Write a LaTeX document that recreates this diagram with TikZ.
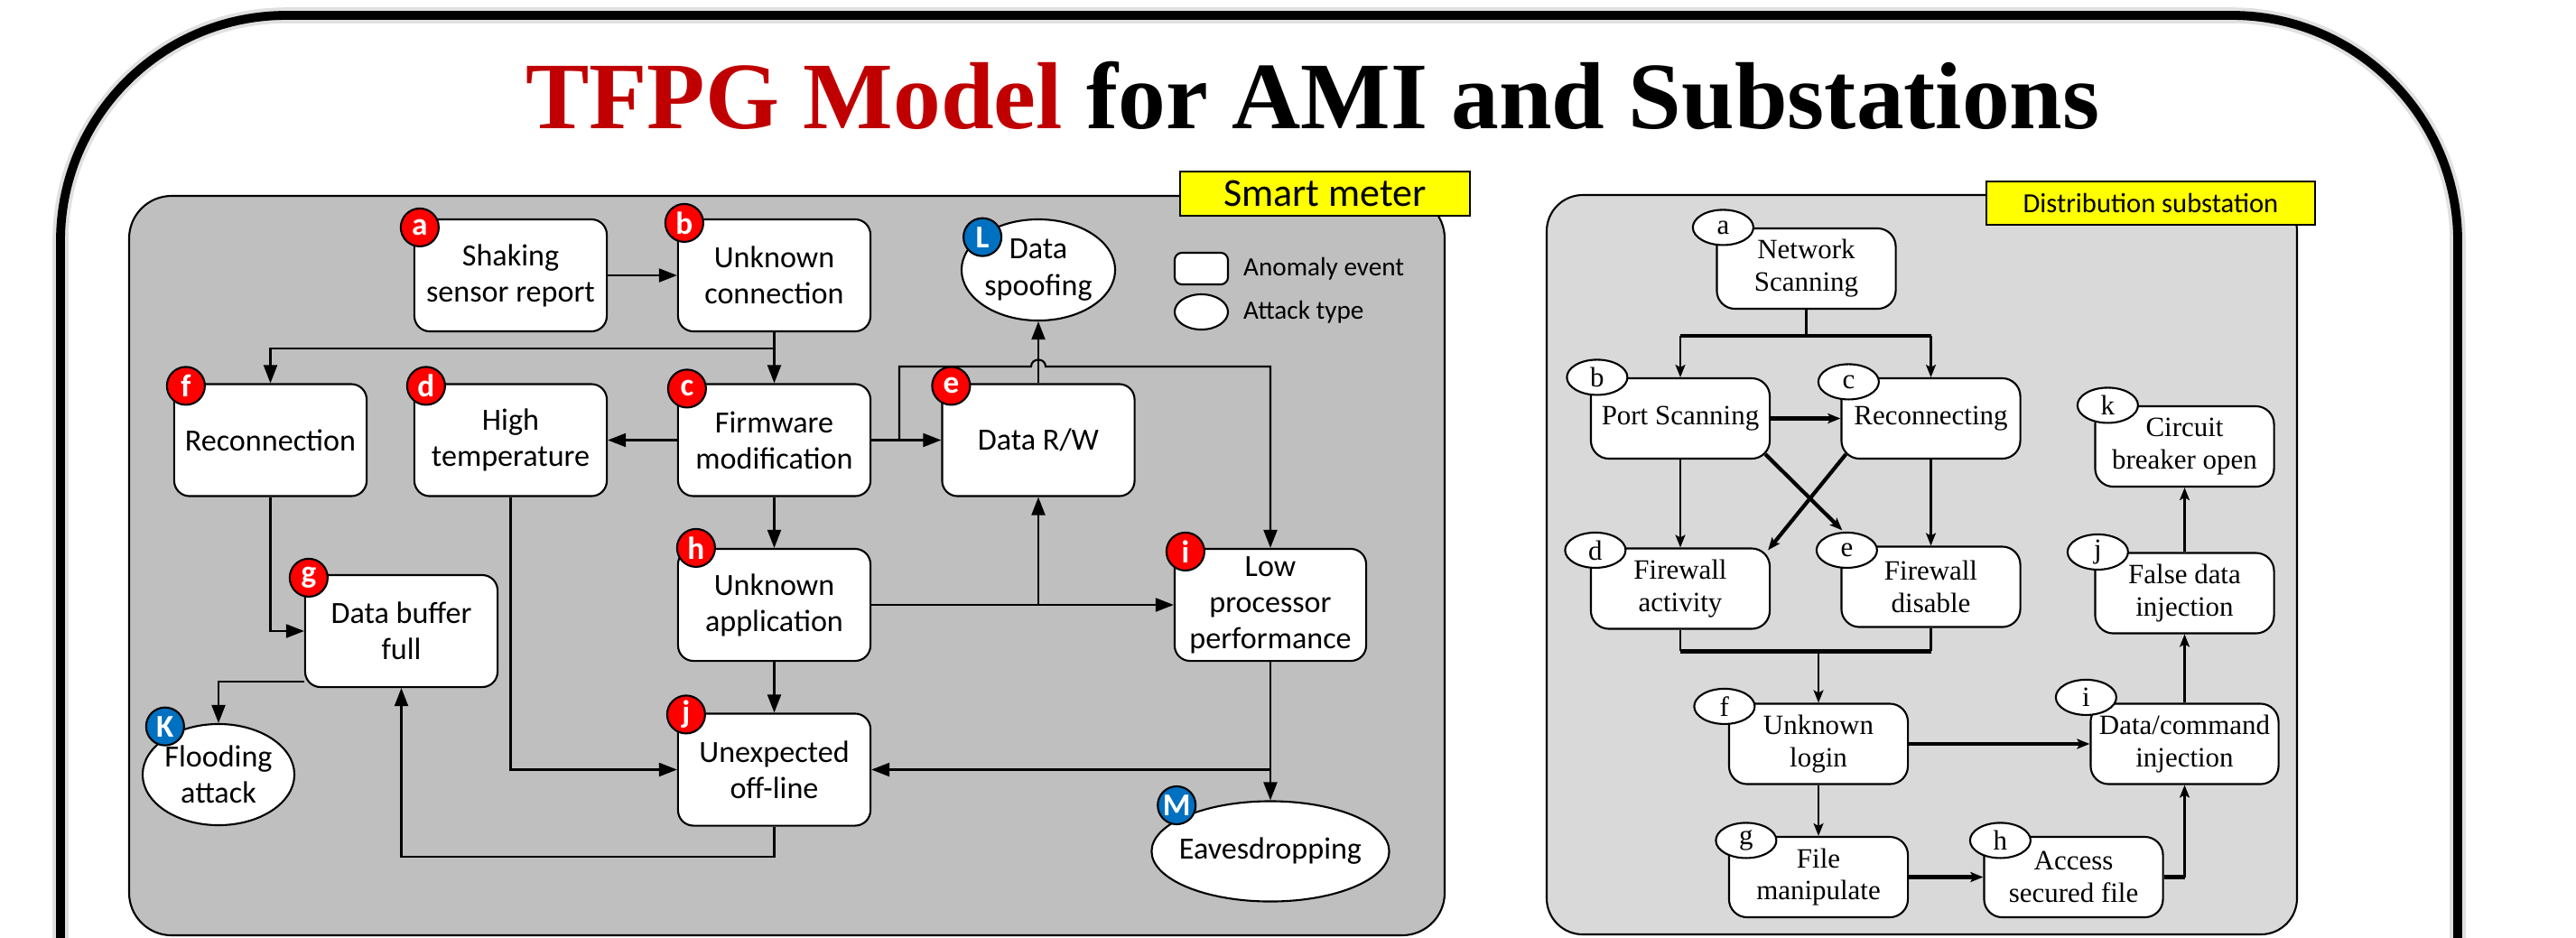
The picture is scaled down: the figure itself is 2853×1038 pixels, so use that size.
\documentclass[tikz,border=0pt]{standalone}
\usepackage{fontspec}
\usepackage{xcolor}
\usepackage{tikz}
\usetikzlibrary{arrows.meta,positioning,shapes.geometric,calc}
\newfontfamily\calibrifont{Carlito}
\newfontfamily\timesfont{Liberation Serif}
\definecolor{meterpanel}{HTML}{BFBFBF}
\definecolor{stationpanel}{HTML}{D9D9D9}
\definecolor{tagyellow}{HTML}{FFFF00}
\definecolor{eventred}{HTML}{FF0000}
\definecolor{attackblue}{HTML}{0070C0}
\definecolor{titlered}{HTML}{C00000}

\begin{document}
\begin{tikzpicture}[x=0.01cm,y=-0.01cm,line width=0.6pt,
  font=\calibrifont,
  ev/.style={rounded corners=0.17cm,draw,fill=white,align=center,inner sep=0pt,minimum width=2.13cm,minimum height=1.24cm,font=\calibrifont\fontsize{9.7}{11.4}\selectfont},
  atk/.style={ellipse,draw,fill=white,align=center,inner sep=-3pt,font=\calibrifont\fontsize{9.7}{11.4}\selectfont},
  rtag/.style={circle,draw,fill=eventred,text=white,inner sep=0pt,minimum size=0.42cm,font=\calibrifont\bfseries\fontsize{10}{10}\selectfont},
  btag/.style={rtag,fill=attackblue},
  st/.style={rounded corners=0.2cm,draw,fill=white,align=center,inner sep=0pt,minimum width=1.98cm,minimum height=0.89cm,font=\timesfont\fontsize{8.8}{10.2}\selectfont},
  stag/.style={ellipse,draw,fill=white,inner sep=0pt,minimum width=0.67cm,minimum height=0.39cm,font=\timesfont\fontsize{8.8}{8.8}\selectfont},
  tag/.style={draw,fill=tagyellow,inner sep=0pt},
  key/.style={inner sep=0pt,font=\calibrifont\fontsize{8.3}{10}\selectfont},
  arr/.style={-{Triangle[length=0.2cm,width=0.15cm]}},
  sarr/.style={-{Stealth[length=0.14cm,width=0.11cm,inset=0.03cm]}},
  fat/.style={line width=1.2pt}]
\clip (0,0) rectangle (2853,1038);

\draw[line width=5pt,black!12,rounded corners=2.5cm] (67,1080) -- (67,17) -- (2722,17) -- (2722,1080);
\draw[line width=2.8pt,rounded corners=2.5cm] (67,1080) -- (67,17) -- (2722,17) -- (2722,1080);
\node[anchor=base,font=\timesfont\bfseries\fontsize{30}{32}\selectfont] (title) at (1454,142) {\textcolor{titlered}{TFPG Model} for AMI and Substations};

% smart meter
\draw[fill=meterpanel,rounded corners=0.47cm] (143,217) rectangle (1600,1036);
\node[tag,minimum width=3.21cm,minimum height=0.49cm,font=\calibrifont\fontsize{12.5}{14}\selectfont] (meterlbl) at (1467.5,214.5) {Smart meter};

\node[ev,minimum width=0.59cm,minimum height=0.35cm,rounded corners=0.08cm] (keyev) at (1330.5,297.5) {};
\node[key,right=0.15cm of keyev] (keyevtxt) {Anomaly event};
\node[atk,minimum width=0.59cm,minimum height=0.39cm] (keyatk) at (1330.5,345.5) {};
\node[key,right=0.15cm of keyatk] (keyatktxt) {Attack type};

\node[ev] (sa) at (565.5,305) {Shaking\\sensor report};
\node[ev] (sb) at (857.5,305) {Unknown\\connection};
\node[ev] (sc) at (857.5,487.5) {Firmware\\modification};
\node[ev] (sd) at (565.5,487.5) {High\\temperature};
\node[ev] (se) at (1150,487.5) {Data R/W};
\node[ev] (sf) at (299.5,487.5) {Reconnection};
\node[ev] (sg) at (444.5,699) {Data buffer\\full};
\node[ev] (sh) at (857.5,670) {Unknown\\application};
\node[ev,minimum width=2.12cm] (si) at (1407,670) {Low\\processor\\performance};
\node[ev] (sj) at (857.5,852.5) {Unexpected\\off-line};
\node[atk,minimum width=1.68cm,minimum height=1.12cm] (sk) at (242,858) {Flooding\\attack};
\node[atk,minimum width=1.7cm,minimum height=1.12cm] (sl) at (1150,299) {Data\\spoofing};
\node[atk,minimum width=2.63cm,minimum height=1.11cm] (sm) at (1407,943) {Eavesdropping};

\coordinate (cfork) at ($(sc.east)!0.4!(se.west)$);
\coordinate (hopl) at (1142,406);
\coordinate (hopr) at (1158,406);
\draw[arr] (sa) -- (sb);
\draw[arr] (sb) -- (sc);
\draw[arr] (sb.south) -- ++(0,18) -| (sf.north);
\draw[arr] (sc) -- (sd);
\draw[arr] (sc) -- (se);
\draw[arr] (sc) -- (sh);
\draw[arr] (se) -- (sl);
\draw[arr] (cfork) |- (hopl) .. controls +(0,-10) and +(0,-10) .. (hopr) -| (si.north);
\draw[arr] (sh) -- (si);
\draw[arr] (se |- sh) -- (se);
\draw[arr] (sh) -- (sj);
\draw[arr] (sf) |- (sg);
\draw[arr] (sd) |- (sj);
\draw[arr] ([shift={(0,-7)}]sg.south west) -| (sk);
\draw[arr] (sj.south) -- ++(0,33) -| (sg.south);
\draw[arr] (si) -- (sm);
\draw[arr] (si.south |- sj) -- (sj);

\node[rtag] (ta) at ([shift={(7,10)}]sa.north west) {a};
\node[rtag] (tb) at ([shift={(8,5)}]sb.north west) {b};
\node[rtag] (tc) at ([shift={(11,6)}]sc.north west) {c};
\node[rtag] (td) at ([shift={(14,3)}]sd.north west) {d};
\node[rtag] (te) at ([shift={(11,3)}]se.north west) {e};
\node[rtag] (tf) at ([shift={(14,3)}]sf.north west) {f};
\node[rtag] (tg) at ([shift={(5,4)}]sg.north west) {g};
\node[rtag] (th) at ([shift={(21,0)}]sh.north west) {h};
\node[rtag] (ti) at ([shift={(13,4)}]si.north west) {i};
\node[rtag] (tj) at ([shift={(10,2)}]sj.north west) {j};
\node[btag] (tk) at ([shift={(1,-13)}]sk.north west) {K};
\node[btag] (tl) at ([shift={(-1,4)}]sl.north west) {L};
\node[btag] (tm) at ([shift={(-10,-11)}]sm.north west) {M};

% distribution substation
\draw[fill=stationpanel,rounded corners=0.4cm] (1713,216) rectangle (2544,1035);
\node[tag,minimum width=3.64cm,minimum height=0.48cm,font=\calibrifont\fontsize{8.7}{10}\selectfont] (stationlbl) at (2382,225) {Distribution substation};

\node[st] (ra) at (2000.5,297.5) {Network\\Scanning};
\node[st] (rb) at (1861,463.5) {Port Scanning};
\node[st] (rc) at (2138.5,463.5) {Reconnecting};
\node[st] (rd) at (1861,652) {Firewall\\activity};
\node[st] (re) at (2138.5,650) {Firewall\\disable};
\node[st] (rk) at (2419.5,494.5) {Circuit\\breaker open};
\node[st] (rj) at (2419.5,657) {False data\\injection};
\node[st] (rf) at (2014,824) {Unknown\\login};
\node[st,minimum width=2.08cm] (ri) at (2419.5,824) {Data/command\\injection};
\node[st] (rg) at (2014,971.5) {File\\manipulate};
\node[st] (rh) at (2296.5,971.5) {Access\\secured file};

\coordinate (rsplit) at ($(ra.south)+(0,29)$);
\coordinate (rjoin) at ($(rf.north)+(0,-57)$);
\draw (ra) -- (rsplit);
\draw[fat] (rsplit -| rb) -- (rsplit -| rc);
\draw[sarr] (rsplit -| rb) -- (rb);
\draw[sarr] (rsplit -| rc) -- (rc);
\draw[sarr,fat] (rb) -- (rc);
\draw[sarr] (rb) -- (rd);
\draw[sarr] (rc) -- (re);
\draw[sarr,fat] ([shift={(-6,-6)}]rb.south east) -- ([shift={(2,-17)}]re.north west);
\draw[sarr,fat] ([shift={(6,-6)}]rc.south west) -- ([shift={(-3,3)}]rd.north east);
\draw (rd) -- (rd |- rjoin);
\draw (re) -- (re |- rjoin);
\draw[fat] (rd |- rjoin) -- (re |- rjoin);
\draw[sarr] (rjoin) -- (rf);
\draw[sarr,fat] (rf) -- (ri);
\draw[sarr] (rf) -- (rg);
\draw[sarr,fat] (rg) -- (rh);
\draw[fat] (rh) -- (rh -| ri);
\draw[sarr] (rh -| ri) -- (ri);
\draw[sarr] (ri) -- (rj);
\draw[sarr] (rj) -- (rk);

\node[stag] (qa) at ([shift={(8,0)}]ra.north west) {a};
\node[stag] (qb) at ([shift={(8,0)}]rb.north west) {b};
\node[stag] (qc) at ([shift={(9,5)}]rc.north west) {c};
\node[stag] (qd) at ([shift={(6,3)}]rd.north west) {d};
\node[stag] (qe) at ([shift={(7,5)}]re.north west) {e};
\node[stag] (qf) at ([shift={(-4,4)}]rf.north west) {f};
\node[stag] (qg) at ([shift={(20,5)}]rg.north west) {g};
\node[stag] (qh) at ([shift={(19,5)}]rh.north west) {h};
\node[stag] (qi) at ([shift={(-4,-6)}]ri.north west) {i};
\node[stag] (qj) at ([shift={(4,0)}]rj.north west) {j};
\node[stag] (qk) at ([shift={(15,0)}]rk.north west) {k};
\end{tikzpicture}
\end{document}
